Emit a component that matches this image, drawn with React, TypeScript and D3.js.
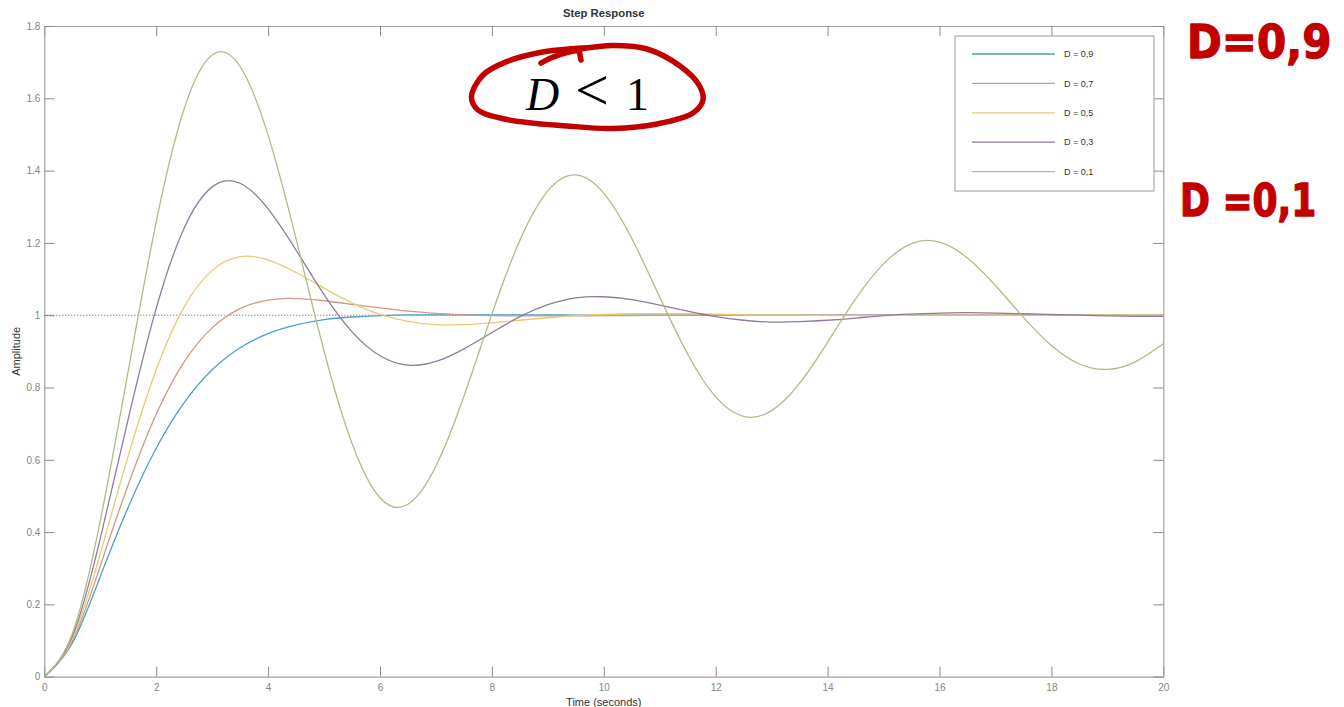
import React, { useEffect, useRef } from "react";
import * as d3 from "d3";

// step response of a 2nd order system, every 0.5 s
const time = [0, 0.5, 1, 1.5, 2, 2.5, 3, 3.5, 4, 4.5, 5, 5.5, 6, 6.5, 7, 7.5, 8, 8.5, 9, 9.5, 10,
  10.5, 11, 11.5, 12, 12.5, 13, 13.5, 14, 14.5, 15, 15.5, 16, 16.5, 17, 17.5, 18, 18.5, 19, 19.5, 20];

const d09 = [0, 0.093, 0.277, 0.469, 0.632, 0.758, 0.849, 0.910, 0.949, 0.973, 0.988, 0.995, 0.999,
  1.001, 1.001, 1.001, 1.001, 1.001, 1.001, 1, 1, 1, 1, 1, 1, 1, 1, 1, 1, 1, 1, 1, 1, 1, 1, 1, 1, 1, 1, 1, 1];
const d07 = [0, 0.098, 0.306, 0.531, 0.726, 0.871, 0.965, 1.018, 1.042, 1.046, 1.040, 1.030, 1.020,
  1.011, 1.005, 1.001, 0.999, 0.998, 0.998, 0.998, 0.999, 0.999, 1, 1, 1, 1, 1, 1, 1, 1, 1, 1, 1, 1, 1, 1, 1, 1, 1, 1, 1];
const d05 = [0, 0.104, 0.340, 0.611, 0.849, 1.023, 1.124, 1.162, 1.153, 1.118, 1.075, 1.034, 1.002,
  0.983, 0.974, 0.974, 0.979, 0.986, 0.993, 0.999, 1.002, 1.004, 1.004, 1.004, 1.003, 1.001, 1.000,
  1.000, 0.999, 0.999, 0.999, 1.000, 1, 1, 1, 1, 1, 1, 1, 1, 1];
const d03 = [0, 0.111, 0.382, 0.713, 1.019, 1.241, 1.355, 1.365, 1.294, 1.180, 1.057, 0.954, 0.888,
  0.862, 0.872, 0.907, 0.952, 0.996, 1.029, 1.048, 1.051, 1.043, 1.028, 1.011, 0.996, 0.986, 0.981,
  0.982, 0.986, 0.992, 0.999, 1.003, 1.006, 1.007, 1.006, 1.004, 1.002, 1.000, 0.998, 0.997, 0.997];
const d01 = [0, 0.119, 0.431, 0.846, 1.258, 1.571, 1.720, 1.688, 1.498, 1.211, 0.901, 0.645, 0.495,
  0.477, 0.583, 0.776, 1.003, 1.207, 1.344, 1.388, 1.337, 1.212, 1.050, 0.892, 0.774, 0.720, 0.736,
  0.812, 0.925, 1.045, 1.142, 1.198, 1.202, 1.158, 1.082, 0.994, 0.916, 0.865, 0.850, 0.871, 0.921];

const seriesNames = ["D = 0,9", "D = 0,7", "D = 0,5", "D = 0,3", "D = 0,1"];
const seriesValues = [d09, d07, d05, d03, d01];
const seriesColors = ["#4f9fc0", "#cc9a84", "#e6cb74", "#917aa1", "#aebd86"];

const xTicks = [0, 2, 4, 6, 8, 10, 12, 14, 16, 18, 20];
const yTicks = [0, 0.2, 0.4, 0.6, 0.8, 1, 1.2, 1.4, 1.6, 1.8];

const W = 1344;
const H = 707;
const FONT = "'Liberation Sans', Arial, Helvetica, sans-serif";
const RED = "#c20000";

function StepResponse() {
  const ref = useRef<SVGSVGElement>(null);

  useEffect(() => {
    const svg = d3.select(ref.current);
    svg.selectAll("*").remove();

    const left = 44.3, right = 1163.3, top = 26, bottom = 676.7;
    const x = d3.scaleLinear().domain([0, 20]).range([left, right]);
    const y = d3.scaleLinear().domain([0, 1.8]).range([bottom, top]);

    svg.append("rect").attr("width", W).attr("height", H).attr("fill", "#fff");

    // axes, ticks pointing inwards on all four sides
    const styleAxis = (g: any) => {
      g.selectAll("path").attr("stroke", "#a2a2a2").attr("stroke-width", 1.2);
      g.selectAll("line").attr("stroke", "#8a8a8a");
      g.selectAll("text").attr("fill", "#858585").attr("font-size", 10).attr("font-family", FONT);
    };

    svg.append("g")
      .attr("transform", `translate(0,${bottom})`)
      .call(d3.axisBottom(x).tickValues(xTicks).tickSizeInner(-10).tickSizeOuter(0).tickPadding(7)
        .tickFormat((d) => String(d)))
      .call(styleAxis);

    svg.append("g")
      .attr("transform", `translate(0,${top})`)
      .call(d3.axisTop(x).tickValues(xTicks).tickSizeInner(-10).tickSizeOuter(0).tickFormat(() => ""))
      .call(styleAxis);

    svg.append("g")
      .attr("transform", `translate(${left},0)`)
      .call(d3.axisLeft(y).tickValues(yTicks).tickSizeInner(-10).tickSizeOuter(0).tickPadding(4)
        .tickFormat((d) => String(+(+d).toFixed(1))))
      .call(styleAxis);

    svg.append("g")
      .attr("transform", `translate(${right},0)`)
      .call(d3.axisRight(y).tickValues(yTicks).tickSizeInner(-10).tickSizeOuter(0).tickFormat(() => ""))
      .call(styleAxis);

    // steady state line
    svg.append("line")
      .attr("x1", x(0)).attr("x2", x(20))
      .attr("y1", y(1)).attr("y2", y(1))
      .attr("stroke", "#555").attr("stroke-dasharray", "1 2");

    svg.append("clipPath").attr("id", "plot-clip")
      .append("rect").attr("x", left).attr("y", top)
      .attr("width", right - left).attr("height", bottom - top);

    const line = d3.line<number>()
      .x((_, i) => x(time[i]))
      .y((d) => y(d))
      .curve(d3.curveNatural);

    svg.append("g").attr("clip-path", "url(#plot-clip)")
      .selectAll("path")
      .data(seriesValues)
      .enter()
      .append("path")
      .attr("d", (d) => line(d))
      .attr("fill", "none")
      .attr("stroke", (_, i) => seriesColors[i])
      .attr("stroke-width", 1.3);

    // titles
    svg.append("text")
      .attr("x", (left + right) / 2).attr("y", 17)
      .attr("text-anchor", "middle")
      .attr("font-family", FONT).attr("font-size", 11.3).attr("font-weight", "bold")
      .attr("fill", "#333")
      .text("Step Response");

    svg.append("text")
      .attr("x", (left + right) / 2).attr("y", 706)
      .attr("text-anchor", "middle")
      .attr("font-family", FONT).attr("font-size", 11)
      .attr("fill", "#333")
      .text("Time (seconds)");

    svg.append("text")
      .attr("transform", `translate(20,${(top + bottom) / 2}) rotate(-90)`)
      .attr("text-anchor", "middle")
      .attr("font-family", FONT).attr("font-size", 11)
      .attr("fill", "#333")
      .text("Amplitude");

    // legend
    const legend = svg.append("g");
    legend.append("rect")
      .attr("x", 955).attr("y", 36).attr("width", 199).attr("height", 155)
      .attr("fill", "#fff").attr("stroke", "#9a9a9a");

    const rows = legend.selectAll("g.row")
      .data(seriesNames)
      .enter()
      .append("g")
      .attr("transform", (_, i) => `translate(0,${54 + i * 29.4})`);

    rows.append("line")
      .attr("x1", 972).attr("x2", 1055)
      .attr("stroke", (_, i) => seriesColors[i]).attr("stroke-width", 1.3);

    rows.append("text")
      .attr("x", 1064).attr("dy", "0.35em")
      .attr("font-family", FONT).attr("font-size", 9)
      .attr("fill", "#333")
      .text((d) => d);

    // hand written notes
    const notes = svg.append("g");

    notes.append("path")
      .attr("d", "M541,63 Q558,53 579,50 L581,60")
      .attr("fill", "none").attr("stroke", RED).attr("stroke-width", 5.5)
      .attr("stroke-linecap", "round").attr("stroke-linejoin", "round");

    const loop: [number, number][] = [
      [580, 49], [613, 45.5], [647, 49], [680, 66], [699, 85], [703, 100], [693, 113],
      [657, 124], [613, 128.5], [567, 126], [507, 119.5], [478, 110], [471.5, 97],
      [483, 75], [507, 61.5], [540, 52.5], [575, 48.5], [592, 47.5],
    ];
    notes.append("path")
      .attr("d", d3.line().curve(d3.curveCatmullRom)(loop))
      .attr("fill", "none").attr("stroke", RED).attr("stroke-width", 5.5)
      .attr("stroke-linecap", "round");

    const math = notes.append("g")
      .attr("font-family", "'Liberation Serif', 'DejaVu Serif', serif")
      .attr("fill", "#000");
    math.append("text").attr("x", 526).attr("y", 110).attr("font-size", 46)
      .attr("font-style", "italic").text("D");
    math.append("text").attr("x", 575).attr("y", 110).attr("font-size", 60).text("<");
    math.append("text").attr("x", 626).attr("y", 110).attr("font-size", 46).text("1");

    const hand = notes.append("g")
      .attr("font-family", "'DejaVu Sans', sans-serif").attr("font-weight", "bold")
      .attr("fill", RED)
      .attr("stroke", RED).attr("stroke-width", 1.2).attr("stroke-linejoin", "round");
    hand.append("text")
      .attr("transform", "translate(1187,58) scale(1,1.12)")
      .attr("font-size", 42)
      .text("D=0,9");
    hand.append("text")
      .attr("transform", "translate(1180,216) scale(1,1.22)")
      .attr("font-size", 36)
      .text("D =0,1");
  }, []);

  return (
    <svg
      ref={ref}
      width={W}
      height={H}
      style={{ position: "absolute", left: 0, top: 0, display: "block" }}
    />
  );
}

export default function App() {
  return <StepResponse />;
}
